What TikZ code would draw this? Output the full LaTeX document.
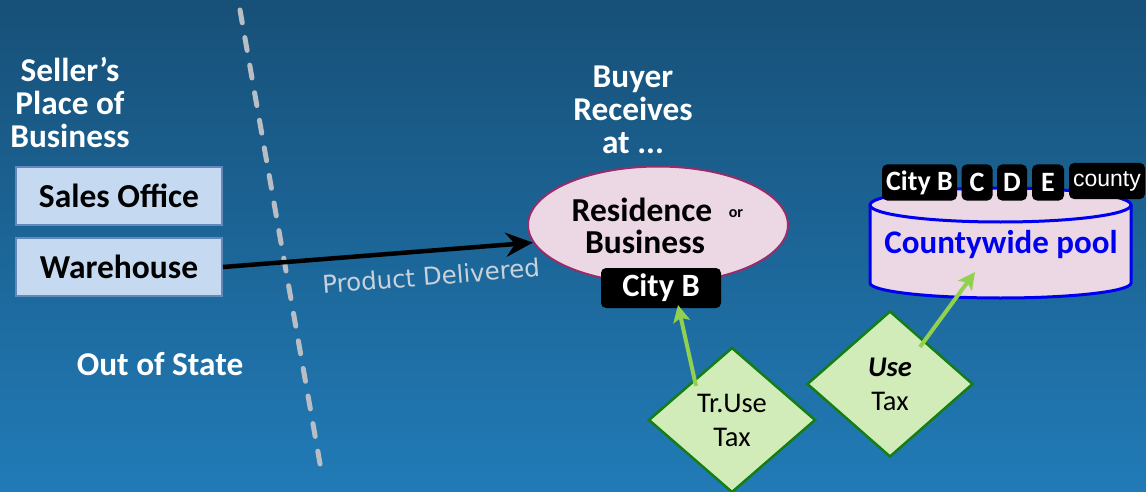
\documentclass[tikz,border=0pt]{standalone}
\usepackage{fontspec}
\setmainfont{Carlito}
\newfontfamily\dejavu{DejaVu Sans}
\newfontfamily\arialf{Liberation Sans}
\usetikzlibrary{arrows.meta,shapes.geometric}
\definecolor{bgtop}{RGB}{23,80,120}
\definecolor{bgbot}{RGB}{33,123,183}
\definecolor{boxfill}{RGB}{197,217,240}
\definecolor{boxline}{RGB}{100,135,190}
\definecolor{ellfill}{RGB}{236,215,228}
\definecolor{ellline}{RGB}{150,45,105}
\definecolor{diafill}{RGB}{210,236,185}
\definecolor{dialine}{RGB}{20,125,20}
\definecolor{garrow}{RGB}{146,208,80}
\definecolor{dashgray}{RGB}{185,190,196}
\definecolor{prodtext}{RGB}{200,210,218}
\definecolor{poolblue}{RGB}{0,0,240}
\begin{document}
\begin{tikzpicture}[x=1pt,y=-1pt,
  whitehead/.style={white,font=\bfseries\fontsize{33.3}{33}\selectfont,align=center,inner sep=0},
  selbox/.style={draw=boxline,line width=2pt,fill=boxfill,minimum width=206pt,minimum height=58pt,font=\bfseries\fontsize{33.5}{34}\selectfont,inner sep=0},
  blackbox/.style={fill=black,rounded corners=5pt,text=white,inner sep=0,font=\bfseries\fontsize{28}{29}\selectfont},
  taxdia/.style={diamond,draw=dialine,line width=2.5pt,fill=diafill,inner sep=0,align=center,font=\fontsize{28.5}{34}\selectfont},
  greenarrow/.style={draw=garrow,line width=4pt,-{Stealth[length=17pt,width=17pt,inset=4pt]}},
  dashline/.style={draw=dashgray,line width=5pt,line cap=round,dash pattern=on 13pt off 15pt}
]
\shade[top color=bgtop,bottom color=bgbot] (0,0) rectangle (1146,492);
\useasboundingbox (0,0) rectangle (1146,492);

% dashed border
\coordinate (dtop) at (240,10);
\coordinate (dbot) at (322,475);
\draw[dashline] (dtop) -- (dbot);

% seller side
\node[whitehead] (seller) at (70,103) {Seller’s\\Place of\\Business};
\node[selbox] (sales) at (119,196) {Sales Office};
\node[selbox] (ware) at (119,267) {Warehouse};
\node[whitehead] (oos) at (160,364) {Out of State};

% buyer side
\node[whitehead] (buyer) at (633,110) {Buyer\\Receives\\at ...};
\node[ellipse,draw=ellline,line width=2pt,fill=ellfill,minimum width=260pt,minimum height=117pt] (res) at (658,225) {};
\node[font=\bfseries\fontsize{33.5}{34}\selectfont,inner sep=0] (resl) at (642,210) {Residence};
\node[font=\bfseries\fontsize{16}{18}\selectfont,inner sep=0] (ort) at (736,214) {or};
\node[font=\bfseries\fontsize{33.5}{34}\selectfont,inner sep=0] (busl) at (645,242) {Business};
\node[blackbox,minimum width=120pt,minimum height=40pt,font=\bfseries\fontsize{32.5}{33}\selectfont] (cityb) at (661,288) {City B};

% delivery arrow
\draw[black,line width=4.5pt,-{Stealth[length=27pt,width=24pt,inset=9pt]}] (ware.east) -- (res.188);
\node[text=prodtext,font=\dejavu\fontsize{24.5}{26}\selectfont,rotate=4.5,inner sep=0] (prod) at (431,276) {Product Delivered};

% cylinder
\fill[ellfill] (870,205) rectangle (1131,283);
\fill[ellfill] (1000.5,283) ellipse [x radius=130.5,y radius=15];
\fill[ellfill] (1000.5,205) ellipse [x radius=130.5,y radius=17];
\draw[poolblue,line width=3pt] (1000.5,205) ellipse [x radius=130.5,y radius=17];
\draw[poolblue,line width=3pt] (870,205) -- (870,283) arc[start angle=180,end angle=0,x radius=130.5,y radius=15] -- (1131,205);
\node[text=poolblue,font=\bfseries\fontsize{33}{34}\selectfont,inner sep=0] (pool) at (1001,245) {Countywide pool};

\node[blackbox,minimum width=75pt,minimum height=36pt] (lb) at (919.5,182.5) {City B};
\node[blackbox,minimum width=31pt,minimum height=36pt] (lc) at (977,182.5) {C};
\node[blackbox,minimum width=30pt,minimum height=36pt] (ld) at (1012,182.5) {D};
\node[blackbox,minimum width=32pt,minimum height=36pt] (le) at (1048,182.5) {E};
\node[blackbox,minimum width=76pt,minimum height=36pt,font=\arialf\fontsize{23}{24}\selectfont] (lcounty) at (1107,181) {county};

% tax diamonds
\node[taxdia,minimum width=167pt,minimum height=145pt] (tr) at (732,420) {Tr.Use\\Tax};
\node[taxdia,minimum width=166pt,minimum height=146pt] (use) at (890,384) {\textbf{\textit{Use}}\\Tax};

\coordinate (g1s) at (696,386);
\coordinate (g1e) at (678,305);
\draw[greenarrow] (g1s) -- (g1e);
\coordinate (g2s) at (920,347);
\coordinate (g2e) at (975,272);
\draw[greenarrow] (g2s) -- (g2e);
\end{tikzpicture}
\end{document}
